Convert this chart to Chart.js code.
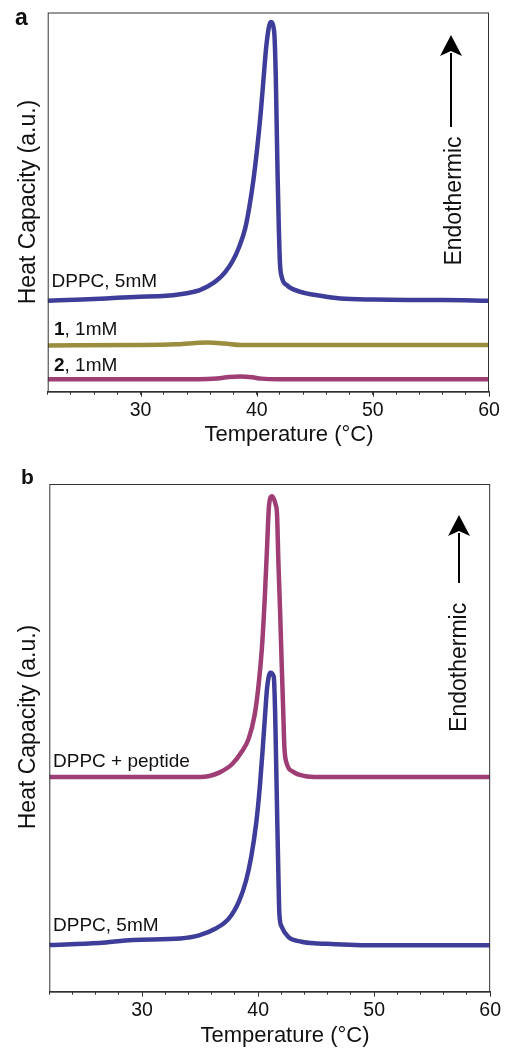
<!DOCTYPE html>
<html>
<head>
<meta charset="utf-8">
<script src="https://cdn.jsdelivr.net/npm/chart.js@4.4.1/dist/chart.umd.min.js"></script>
<style>
  html, body { margin: 0; padding: 0; background: #fff; }
  #wrapA { position: absolute; left: 0; top: 0; width: 505px; height: 455px; }
  #wrapB { position: absolute; left: 0; top: 455px; width: 505px; height: 594px; }
</style>
</head>
<body>
<div id="wrapA"><canvas id="plotA" width="505" height="455"></canvas></div>
<div id="wrapB"><canvas id="plotB" width="505" height="594"></canvas></div>
<script>
// temperature axis
const X_MIN = 22;
const X_MAX = 60;
const xTickLabels = [30, 40, 50, 60];

// panel a, DPPC 5mM (heat capacity, arbitrary units 0-100 of the frame)
const dppcA_T = [22, 25, 27, 29.5, 32.2, 33.4, 34.5, 35.1, 35.8, 36.55, 37.3, 37.95, 38.5, 39.0, 39.35, 39.7, 40.05, 40.35, 40.6, 40.85, 41.2, 41.5, 41.64, 41.72, 41.8, 41.9, 42.0, 42.15, 42.6, 43.7, 45.5, 47.2, 50, 53, 56, 60];
const dppcA_V = [24.0, 24.3, 24.6, 25.0, 25.3, 25.7, 26.3, 26.8, 27.8, 29.3, 31.6, 34.6, 38.3, 43.0, 48.5, 55.5, 64.5, 73.8, 83.1, 91.9, 97.5, 95.0, 83.1, 69.9, 56.7, 43.5, 33.9, 30.3, 28.1, 26.4, 25.3, 24.6, 24.3, 24.2, 24.2, 24.0];
// panel a, compound 1, 1mM
const comp1_T = [22, 30, 33, 34.5, 35.8, 37.2, 38.8, 42, 60];
const comp1_V = [12.2, 12.3, 12.5, 12.8, 12.95, 12.7, 12.3, 12.3, 12.3];
// panel a, compound 2, 1mM
const comp2_T = [22, 35, 36.6, 37.6, 38.6, 39.6, 40.4, 42, 60];
const comp2_V = [3.3, 3.3, 3.5, 3.85, 4.0, 3.8, 3.45, 3.3, 3.3];

// panel b, DPPC + peptide
const pepB_T = [22, 30, 34, 35, 35.8, 36.6, 37.75, 38.6, 39.18, 39.7, 40.03, 40.32, 40.55, 40.75, 40.95, 41.2, 41.5, 41.63, 41.75, 41.9, 42.03, 42.17, 42.26, 42.46, 43.03, 44.0, 45.2, 50, 60];
const pepB_V = [42.3, 42.3, 42.3, 42.3, 42.5, 43.1, 44.8, 47.3, 49.8, 54.5, 60.2, 67.5, 76.5, 86.5, 96.0, 97.6, 96.0, 94.0, 84.4, 74.5, 64.7, 54.8, 48.3, 45.0, 43.3, 42.5, 42.3, 42.3, 42.3];
// panel b, DPPC 5mM
const dppcB_T = [22, 26.3, 29.2, 33.3, 34.9, 36.3, 37.47, 38.35, 38.95, 39.4, 39.85, 40.15, 40.4, 40.6, 40.78, 41.06, 41.35, 41.46, 41.55, 41.66, 41.75, 41.83, 42.03, 42.6, 43.74, 45.17, 46.3, 49.2, 60];
const dppcB_V = [9.2, 9.6, 10.2, 10.5, 11.1, 12.4, 14.4, 17.8, 21.8, 26.5, 33.5, 40.5, 48.0, 54.5, 60.0, 62.8, 62.0, 55.5, 45.6, 32.5, 22.7, 15.4, 12.8, 10.8, 9.85, 9.5, 9.4, 9.15, 9.15];

const COLORS = {
  blue: 'rgb(62, 62, 154)',
  olive: 'rgb(155, 141, 62)',
  magenta: 'rgb(158, 62, 116)'
};
const FONT = '"Liberation Sans", Arial, Helvetica, sans-serif';

function points(xs, ys) {
  return xs.map((x, i) => ({ x: x, y: ys[i] }));
}

function dataset_new(xs, ys, color) {
  return {
    data: points(xs, ys),
    borderColor: color,
    backgroundColor: color,
    borderWidth: 4.5,
    pointRadius: 0,
    cubicInterpolationMode: 'monotone',
    borderJoinStyle: 'miter',
    fill: false
  };
}

// frame, longer major ticks, labels and the arrow
const decorPlugin = {
  id: 'decor',
  afterDraw(chart, args, opts) {
    const ctx = chart.ctx;
    const a = chart.chartArea;
    const xs = chart.scales.x;
    ctx.save();
    ctx.strokeStyle = '#333';
    ctx.lineWidth = 1;
    ctx.strokeRect(a.left + 0.5, a.top + 0.5, a.right - a.left - 1, a.bottom - a.top);
    ctx.beginPath();
    xTickLabels.forEach(v => {
      const px = Math.round(xs.getPixelForValue(v)) + 0.5;
      ctx.moveTo(px, a.bottom);
      ctx.lineTo(px, a.bottom + 5);
    });
    ctx.stroke();

    ctx.fillStyle = '#111';
    opts.texts.forEach(t => {
      ctx.save();
      ctx.translate(t.x, t.y);
      if (t.rotate) ctx.rotate(-Math.PI / 2);
      ctx.textBaseline = 'alphabetic';
      const parts = t.parts || [{ s: t.text, bold: t.bold }];
      let total = 0;
      parts.forEach(p => {
        ctx.font = (p.bold ? 'bold ' : '') + t.size + 'px ' + FONT;
        total += ctx.measureText(p.s).width;
      });
      let cx = t.align === 'center' ? -total / 2 : 0;
      ctx.textAlign = 'left';
      parts.forEach(p => {
        ctx.font = (p.bold ? 'bold ' : '') + t.size + 'px ' + FONT;
        ctx.fillText(p.s, cx, 0);
        cx += ctx.measureText(p.s).width;
      });
      ctx.restore();
    });

    const ar = opts.arrow;
    ctx.strokeStyle = '#000';
    ctx.fillStyle = '#000';
    ctx.lineWidth = 2;
    ctx.beginPath();
    ctx.moveTo(ar.x, ar.base - 2);
    ctx.lineTo(ar.x, ar.end);
    ctx.stroke();
    ctx.beginPath();
    ctx.moveTo(ar.x, ar.tip);
    ctx.lineTo(ar.x + 11, ar.base + 1);
    ctx.lineTo(ar.x, ar.base - 4);
    ctx.lineTo(ar.x - 11, ar.base + 1);
    ctx.closePath();
    ctx.fill();
    ctx.restore();
  }
};

function config_new(datasets, layout, decor) {
  return {
    type: 'line',
    data: { datasets: datasets },
    plugins: [decorPlugin],
    options: {
      responsive: false,
      animation: false,
      devicePixelRatio: 1,
      layout: { padding: layout.padding },
      plugins: {
        legend: { display: false },
        title: { display: false },
        tooltip: { enabled: false },
        decor: decor
      },
      scales: {
        x: {
          type: 'linear',
          min: X_MIN,
          max: X_MAX,
          afterFit: (s) => { s.height = layout.xHeight; },
          grid: { display: true, drawOnChartArea: false, tickLength: 3, color: '#333' },
          border: { display: true, color: '#333' },
          ticks: {
            stepSize: 2,
            autoSkip: false,
            maxRotation: 0,
            padding: 4,
            color: '#111',
            font: { family: FONT, size: 19.5 },
            callback: (v) => xTickLabels.includes(v) ? String(v) : ''
          }
        },
        y: {
          display: false,
          min: 0,
          max: 100
        }
      }
    }
  };
}

const configA = config_new(
  [
    dataset_new(dppcA_T, dppcA_V, COLORS.blue),
    dataset_new(comp1_T, comp1_V, COLORS.olive),
    dataset_new(comp2_T, comp2_V, COLORS.magenta)
  ],
  { padding: { left: 47.7, right: 16, top: 12.5, bottom: 0 }, xHeight: 63.3 },
  {
    texts: [
      { text: 'a', bold: true, size: 23, x: 15, y: 25 },
      { text: 'Heat Capacity (a.u.)', size: 23, x: 35, y: 202, rotate: true, align: 'center' },
      { text: 'Endothermic', size: 23, x: 460.5, y: 201, rotate: true, align: 'center' },
      { text: 'Temperature (°C)', size: 22, x: 289, y: 440.5, align: 'center' },
      { text: 'DPPC, 5mM', size: 19, x: 51.5, y: 287.3 },
      { parts: [{ s: '1', bold: true }, { s: ', 1mM' }], size: 19, x: 54, y: 335 },
      { parts: [{ s: '2', bold: true }, { s: ', 1mM' }], size: 19, x: 54, y: 370.5 }
    ],
    arrow: { x: 451, tip: 35, base: 55, end: 127 }
  }
);

const configB = config_new(
  [
    dataset_new(pepB_T, pepB_V, COLORS.magenta),
    dataset_new(dppcB_T, dppcB_V, COLORS.blue)
  ],
  { padding: { left: 49.3, right: 11.7, top: 29, bottom: 0 }, xHeight: 57.3 },
  {
    texts: [
      { text: 'b', bold: true, size: 21, x: 21, y: 29 },
      { text: 'Heat Capacity (a.u.)', size: 23, x: 35, y: 272, rotate: true, align: 'center' },
      { text: 'Endothermic', size: 23, x: 465.5, y: 212.4, rotate: true, align: 'center' },
      { text: 'Temperature (°C)', size: 22, x: 285, y: 586.5, align: 'center' },
      { text: 'DPPC + peptide', size: 19, x: 53, y: 311.7 },
      { text: 'DPPC, 5mM', size: 19, x: 53, y: 475.7 }
    ],
    arrow: { x: 459, tip: 60, base: 80, end: 128 }
  }
);

const chartA = new Chart(document.getElementById('plotA'), configA);
const chartB = new Chart(document.getElementById('plotB'), configB);
</script>
</body>
</html>
